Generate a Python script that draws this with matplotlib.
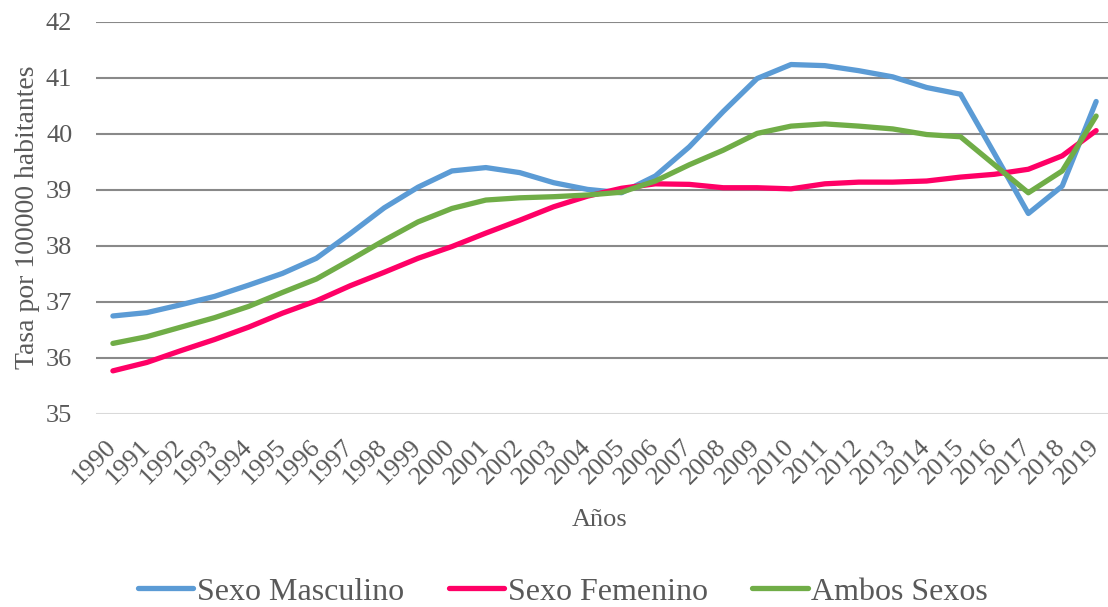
import matplotlib
matplotlib.use("Agg")
import matplotlib.pyplot as plt

# Tasa por 100000 habitantes, 1990-2019
years = [str(y) for y in range(1990, 2020)]
masculino = [36.75, 36.81, 36.95, 37.10, 37.30, 37.51, 37.78, 38.22, 38.68, 39.05,
             39.34, 39.40, 39.31, 39.13, 39.01, 38.95, 39.25, 39.77, 40.40, 40.99,
             41.24, 41.22, 41.13, 41.02, 40.83, 40.71, 39.65, 38.58, 39.07, 40.58]
femenino = [35.77, 35.92, 36.13, 36.33, 36.55, 36.80, 37.02, 37.29, 37.53, 37.78,
            37.99, 38.23, 38.46, 38.70, 38.89, 39.03, 39.11, 39.10, 39.04, 39.04,
            39.02, 39.11, 39.14, 39.14, 39.16, 39.23, 39.28, 39.37, 39.61, 40.06]
ambos = [36.26, 36.38, 36.55, 36.72, 36.92, 37.17, 37.41, 37.75, 38.10, 38.43,
         38.67, 38.82, 38.86, 38.88, 38.91, 38.96, 39.16, 39.45, 39.71, 40.01,
         40.14, 40.18, 40.14, 40.09, 39.99, 39.95, 39.45, 38.95, 39.34, 40.32]

TEXT = "#595959"
plt.rcParams["font.family"] = ["Liberation Serif", "DejaVu Serif"]

fig = plt.figure(figsize=(11.08, 6.07), dpi=100)
# the plot area runs slightly past the right edge of the figure
ax = fig.add_axes([0.0866, 0.318, 0.918, 0.6458])

x = range(len(years))
ax.plot(x, masculino, color="#5B9BD5", lw=3.8, solid_capstyle="round", label="Sexo Masculino", zorder=3)
ax.plot(x, femenino, color="#FF0066", lw=3.8, solid_capstyle="round", label="Sexo Femenino", zorder=3)
ax.plot(x, ambos, color="#70AD47", lw=3.8, solid_capstyle="round", label="Ambos Sexos", zorder=3)

ax.set_xlim(-0.5, len(years) - 0.5)
ax.set_ylim(35, 42)
ax.set_yticks(range(35, 43))
for v in range(36, 43):
    ax.axhline(v, color="#898989", lw=1.5, zorder=1)
ax.axhline(35, color="#D9D9D9", lw=1.5, zorder=1)

for s in ax.spines.values():
    s.set_visible(False)

ax.set_xticks(list(x))
ax.set_xticklabels(years, rotation=45, ha="right", va="center", rotation_mode="anchor")
ax.tick_params(axis="both", length=0, labelsize=19, colors=TEXT)
ax.tick_params(axis="y", pad=17)
ax.tick_params(axis="x", pad=21)

fig.text(0.025, 0.642, "Tasa por 100000 habitantes", rotation=90, ha="center", va="center",
         fontsize=20, color=TEXT)
fig.text(0.541, 0.143, "Años", ha="center", va="center", fontsize=19, color=TEXT)

fig.legend(loc="center", bbox_to_anchor=(0.508, 0.025), ncol=3, frameon=False,
           fontsize=23, handlelength=1.75, handletextpad=0.1, columnspacing=1.4,
           labelcolor=TEXT)

fig.savefig("out.png", dpi=100)
